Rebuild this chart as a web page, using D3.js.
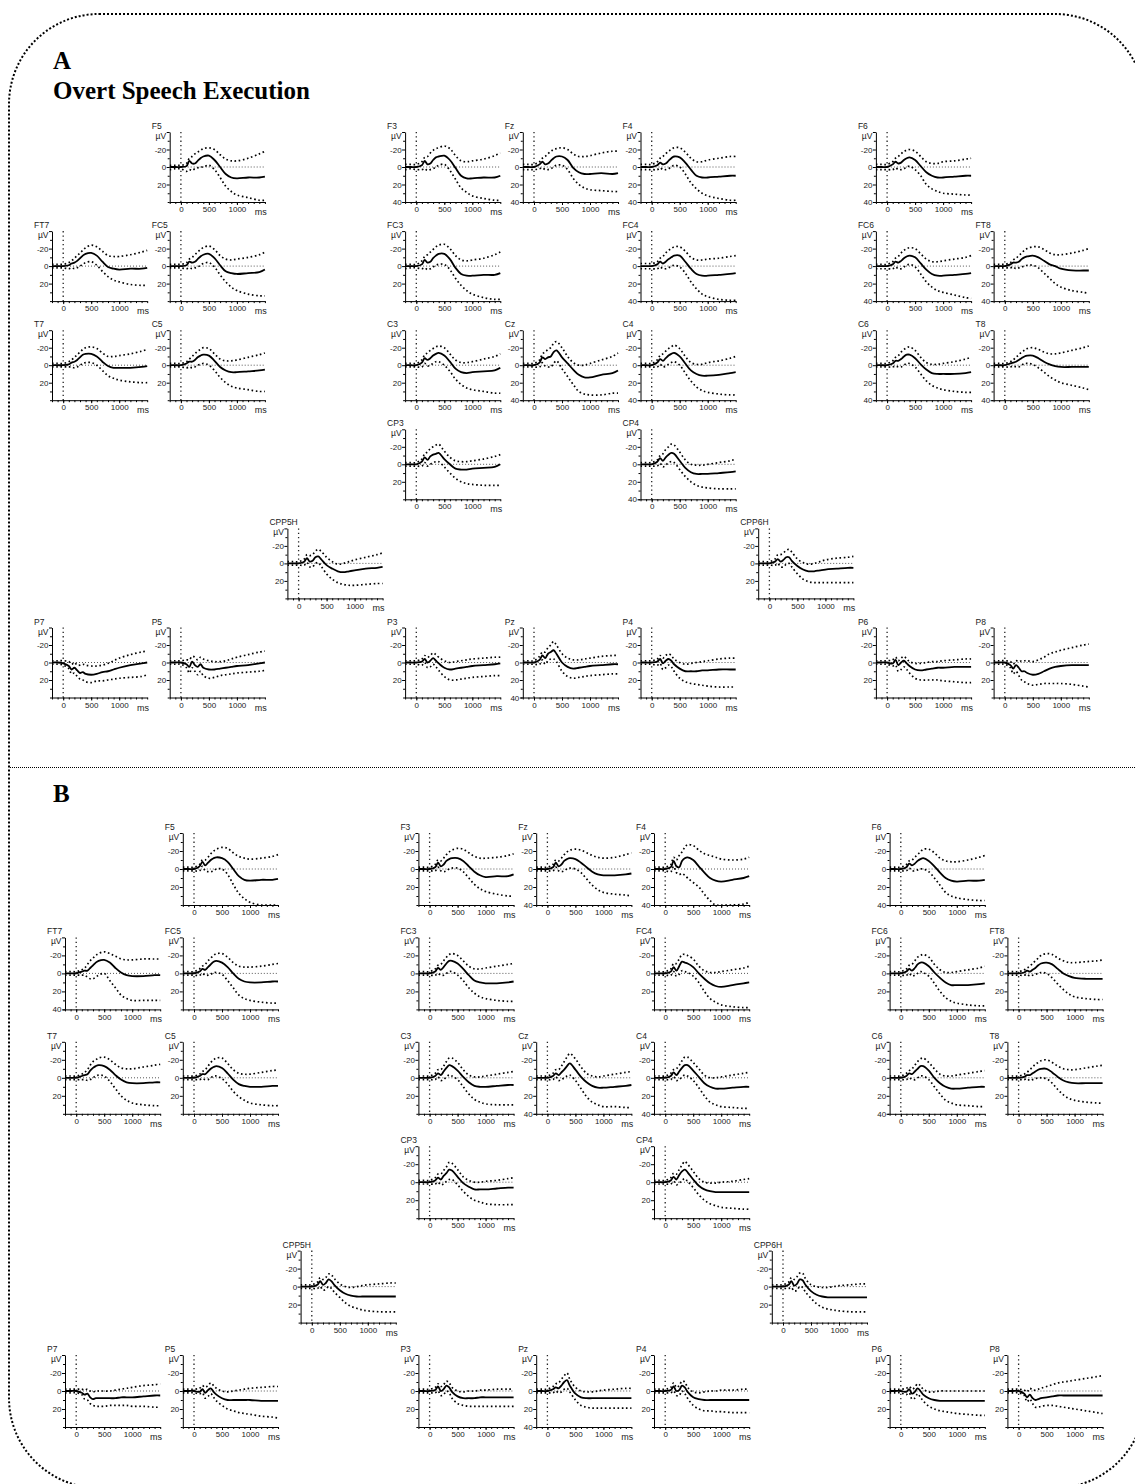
<!DOCTYPE html>
<html>
<head>
<meta charset="utf-8">
<script src="https://cdn.jsdelivr.net/npm/d3@7"></script>
<style>
  body { margin: 0; background: #fff; }
  svg { display: block; }
</style>
</head>
<body>
<svg id="chart" width="1135" height="1484"></svg>
<script>
// Sample latencies (ms) for every waveform
const times = [-200, -100, 0, 100, 150, 200, 250, 300, 350, 400, 500, 600, 700, 800, 900, 1000, 1200, 1400, 1500];

const electrodes = ["F5","F3","Fz","F4","F6","FT7","FC5","FC3","FC4","FC6","FT8","T7","C5","C3","Cz","C4","C6","T8","CP3","CP4","CPP5H","CPP6H","P7","P5","P3","Pz","P4","P6","P8"];

const xTicks = [0, 500, 1000];
const yTicks = [-20, 0, 20, 40];

// Panel A: overt speech execution — grand average (µV) and bounds
const meanA = {
  F5:   [0,0,0,-1,-7,-4,-4,-7,-10,-12,-13,-8,0,8,12,13,12,12,11],
  F3:   [0,0,0,-2,-7,-3,-4,-8,-11,-12,-13,-8,1,10,13,13,12,12,10],
  Fz:   [0,0,0,-3,-6,-3,-4,-7,-10,-12,-12,-8,1,6,8,8,7,8,7],
  F4:   [0,0,0,-2,-5,-3,-4,-7,-10,-12,-11,-5,3,10,12,12,11,10,10],
  F6:   [0,0,0,-3,-6,-4,-5,-8,-10,-11,-8,-1,6,10,12,12,11,10,10],
  FT7:  [0,0,0,-1,-3,-4,-6,-9,-12,-14,-15,-12,-5,1,3,4,3,3,2],
  FC5:  [0,0,0,-1,-5,-4,-5,-8,-11,-13,-14,-9,-1,6,8,9,8,7,4],
  FC3:  [0,0,0,-2,-7,-4,-5,-9,-12,-14,-14,-8,2,9,11,11,10,10,8],
  FC4:  [0,0,0,-2,-5,-3,-5,-8,-10,-12,-12,-5,3,9,11,11,10,9,8],
  FC6:  [0,0,0,-2,-5,-4,-6,-9,-11,-12,-10,-3,4,9,11,11,10,9,8],
  FT8:  [0,0,0,-2,-4,-4,-5,-8,-10,-11,-12,-10,-6,-2,0,3,5,5,5],
  T7:   [0,0,0,-1,-3,-4,-6,-9,-12,-13,-13,-10,-4,1,3,3,3,2,1],
  C5:   [0,0,0,-2,-4,-4,-6,-9,-11,-12,-11,-5,2,6,8,8,7,6,5],
  C3:   [0,0,0,-3,-8,-6,-8,-11,-13,-14,-11,-4,4,8,9,8,7,6,3],
  Cz:   [0,0,0,-3,-9,-7,-9,-10,-15,-17,-9,-2,5,11,14,14,11,9,6],
  C4:   [0,0,0,-3,-7,-5,-8,-11,-13,-14,-10,-2,6,10,12,12,11,9,8],
  C6:   [0,0,0,-2,-5,-5,-7,-10,-12,-12,-8,-1,5,9,10,10,10,9,8],
  T8:   [0,0,0,-2,-3,-4,-6,-8,-10,-11,-11,-8,-4,-1,1,2,2,2,2],
  CP3:  [0,0,0,-3,-8,-5,-9,-11,-12,-13,-6,0,5,6,6,5,4,3,0],
  CP4:  [0,0,0,-3,-7,-4,-8,-11,-13,-12,-4,4,9,11,11,11,10,9,8],
  CPP5H:[0,0,0,-2,-6,-2,-3,-7,-8,-5,2,6,9,10,9,8,6,5,4],
  CPP6H:[0,0,0,-2,-5,-2,-4,-7,-7,-3,3,7,9,9,8,7,6,5,5],
  P7:   [0,0,1,4,8,6,9,12,11,13,14,13,11,10,8,6,3,1,0],
  P5:   [0,0,0,2,5,-1,3,5,2,6,8,8,7,6,5,4,3,1,0],
  P3:   [0,0,0,-1,-4,0,-2,-5,-2,1,6,8,7,6,5,4,3,2,1],
  Pz:   [0,0,0,-3,-8,-5,-10,-12,-14,-10,0,5,7,6,5,4,3,2,2],
  P4:   [0,0,0,-1,-4,1,-2,-4,-2,2,7,10,10,10,9,9,8,8,8],
  P6:   [0,0,0,1,-3,3,0,-2,1,4,8,9,8,7,6,6,5,5,5],
  P8:   [0,0,0,3,7,3,6,10,10,12,14,13,10,7,5,4,3,3,3]
};
const upperA = {
  F5:   [-2,-2,-2,-4,-10,-12,-15,-17,-19,-21,-22,-20,-14,-9,-7,-7,-10,-15,-18],
  F3:   [-3,-3,-3,-6,-11,-12,-16,-19,-21,-22,-24,-21,-13,-7,-6,-7,-9,-13,-16],
  Fz:   [-3,-3,-3,-6,-10,-12,-15,-18,-20,-21,-22,-20,-15,-12,-12,-13,-16,-18,-18],
  F4:   [-3,-3,-3,-6,-10,-12,-15,-18,-20,-22,-22,-17,-10,-6,-6,-8,-10,-12,-12],
  F6:   [-3,-3,-3,-6,-10,-12,-15,-18,-19,-20,-18,-12,-6,-4,-4,-6,-7,-9,-10],
  FT7:  [-2,-2,-2,-4,-6,-9,-12,-15,-18,-21,-24,-22,-17,-12,-11,-11,-13,-16,-18],
  FC5:  [-2,-2,-2,-4,-8,-10,-13,-16,-19,-21,-23,-19,-12,-8,-7,-8,-10,-13,-16],
  FC3:  [-2,-2,-2,-6,-11,-13,-16,-19,-22,-24,-25,-20,-12,-7,-6,-7,-9,-13,-16],
  FC4:  [-3,-3,-3,-5,-9,-11,-15,-18,-20,-22,-22,-17,-10,-7,-7,-8,-9,-11,-12],
  FC6:  [-2,-2,-2,-5,-9,-11,-15,-18,-20,-21,-20,-14,-8,-5,-5,-6,-8,-10,-12],
  FT8:  [-2,-2,-2,-4,-7,-9,-12,-15,-18,-20,-22,-22,-19,-15,-13,-13,-15,-18,-20],
  T7:   [-2,-2,-2,-4,-6,-9,-12,-15,-18,-20,-21,-19,-14,-10,-10,-11,-13,-16,-18],
  C5:   [-2,-2,-2,-4,-7,-10,-13,-16,-18,-20,-19,-13,-7,-5,-5,-6,-9,-12,-14],
  C3:   [-2,-2,-2,-6,-12,-14,-17,-19,-21,-22,-20,-13,-6,-3,-3,-4,-7,-10,-13],
  Cz:   [-2,-2,-2,-6,-13,-15,-18,-20,-25,-27,-20,-10,-3,0,0,-2,-6,-10,-14],
  C4:   [-2,-2,-2,-6,-11,-13,-16,-19,-21,-23,-19,-10,-3,-1,-1,-3,-5,-8,-10],
  C6:   [-2,-2,-2,-5,-9,-11,-15,-18,-20,-21,-17,-9,-3,-1,-1,-2,-4,-7,-9],
  T8:   [-2,-2,-2,-4,-6,-9,-12,-15,-17,-19,-20,-18,-15,-13,-13,-14,-17,-20,-22],
  CP3:  [-2,-2,-2,-6,-12,-14,-18,-20,-22,-23,-15,-8,-4,-3,-3,-4,-6,-9,-11],
  CP4:  [-2,-2,-2,-5,-10,-12,-17,-20,-23,-22,-14,-5,0,1,1,0,-2,-4,-6],
  CPP5H:[-2,-2,-2,-5,-10,-9,-10,-14,-16,-14,-7,-2,1,0,-2,-4,-7,-10,-12],
  CPP6H:[-2,-2,-2,-5,-10,-10,-12,-15,-16,-13,-5,-1,1,0,-2,-4,-6,-7,-8],
  P7:   [-2,-2,-2,-1,2,0,3,3,2,3,4,4,3,1,-2,-5,-9,-12,-13],
  P5:   [-2,-2,-2,-3,-3,-7,-6,-3,-6,-4,-2,-1,-1,-2,-4,-6,-9,-12,-13],
  P3:   [-2,-2,-2,-4,-8,-6,-8,-11,-9,-6,-2,0,-1,-2,-3,-4,-5,-6,-6],
  Pz:   [-2,-2,-2,-7,-12,-12,-17,-20,-24,-20,-10,-5,-3,-3,-4,-5,-7,-8,-8],
  P4:   [-2,-2,-2,-4,-8,-5,-8,-10,-8,-4,0,2,1,0,-1,-2,-4,-5,-5],
  P6:   [-2,-2,-2,-3,-6,-2,-5,-7,-4,-1,1,1,0,-1,-1,-2,-3,-4,-4],
  P8:   [-2,-2,-2,-1,2,-2,-1,-2,-2,-2,-1,-3,-6,-10,-12,-14,-17,-20,-21]
};
const lowerA = {
  F5:   [3,2,2,5,3,4,2,1,0,0,-2,3,12,22,28,32,35,38,38],
  F3:   [3,2,3,3,2,4,3,2,0,-2,-3,4,14,24,29,33,36,38,38],
  Fz:   [3,3,3,2,1,3,3,2,0,-2,-2,3,13,20,24,26,27,28,28],
  F4:   [3,3,3,3,1,3,3,2,0,-2,0,8,18,25,30,33,36,38,38],
  F6:   [3,3,3,3,1,3,3,2,0,-1,3,10,20,25,28,30,31,32,32],
  FT7:  [2,2,2,3,2,3,2,0,-2,-4,-5,-1,6,12,16,18,21,22,22],
  FC5:  [2,2,2,3,2,3,2,1,-1,-3,-4,1,10,18,24,28,32,34,34],
  FC3:  [3,2,2,3,2,4,3,1,-1,-2,-2,4,14,22,28,32,36,38,38],
  FC4:  [3,3,3,3,1,3,3,2,0,-1,1,8,18,26,32,35,38,39,39],
  FC6:  [3,3,3,3,1,3,3,1,-1,-2,1,9,18,24,28,30,33,36,37],
  FT8:  [2,2,2,2,1,3,2,1,0,-1,-1,2,8,14,20,24,28,30,31],
  T7:   [2,2,2,2,2,3,2,0,-2,-3,-3,0,6,12,15,17,19,20,20],
  C5:   [2,2,2,3,2,3,2,0,-1,-2,0,6,14,20,24,26,28,30,30],
  C3:   [2,2,2,2,-2,1,0,-2,-4,-4,0,7,16,22,26,28,30,32,32],
  Cz:   [2,2,2,2,-3,1,2,2,-2,-5,4,13,22,30,33,34,34,32,32],
  C4:   [2,2,2,2,-1,2,1,-1,-3,-4,0,9,18,25,29,31,33,34,34],
  C6:   [2,2,2,2,1,2,2,0,-2,-2,2,10,18,23,26,28,30,31,31],
  T8:   [2,2,2,2,1,2,2,0,-2,-2,-1,3,8,13,17,20,23,26,28],
  CP3:  [2,2,2,2,-2,2,0,-2,-3,-3,3,10,16,20,22,23,24,24,24],
  CP4:  [2,2,2,2,-1,3,1,-2,-3,-2,6,14,20,24,26,27,28,28,28],
  CPP5H:[2,2,2,2,-1,4,4,0,-1,3,12,18,22,24,25,25,24,23,23],
  CPP6H:[2,2,2,2,0,4,4,1,0,4,12,18,21,22,22,22,22,22,22],
  P7:   [2,2,3,7,13,12,16,19,20,22,23,21,21,20,19,18,17,16,14],
  P5:   [2,2,2,6,12,6,10,14,10,15,18,17,15,14,13,12,11,10,9],
  P3:   [2,2,2,3,0,6,5,2,5,9,16,20,20,19,18,17,16,15,15],
  Pz:   [2,2,2,2,-3,2,-2,-4,-4,-1,10,16,18,17,16,15,14,13,13],
  P4:   [2,2,2,3,1,8,6,3,5,10,18,22,24,25,26,27,28,28,28],
  P6:   [2,2,2,4,3,10,8,5,8,12,18,20,20,20,20,21,22,23,23],
  P8:   [2,2,2,6,13,10,15,20,22,24,26,25,24,24,24,24,25,27,28]
};

// Panel B — grand average (µV) and bounds
const meanB = {
  F5:   [0,0,0,-3,-8,-4,-7,-10,-12,-13,-12,-8,0,8,12,13,12,12,11],
  F3:   [0,0,0,-2,-7,-3,-5,-9,-11,-12,-12,-9,-3,3,7,9,8,8,6],
  Fz:   [0,0,0,-2,-7,-3,-5,-9,-11,-12,-11,-7,-2,3,6,7,7,6,5],
  F4:   [0,0,0,-2,-9,-3,-2,-9,-12,-13,-10,-3,4,10,13,14,12,10,8],
  F6:   [0,0,0,-2,-6,-4,-6,-9,-11,-12,-9,-3,4,10,13,14,13,13,12],
  FT7:  [0,0,0,-2,-3,-3,-6,-9,-12,-14,-15,-12,-6,-1,2,3,3,2,2],
  FC5:  [0,0,0,-2,-5,-4,-7,-10,-13,-14,-12,-7,0,6,9,10,10,9,9],
  FC3:  [0,0,0,-2,-6,-4,-7,-11,-14,-14,-11,-5,2,8,10,11,11,10,9],
  FC4:  [0,0,0,-2,-7,-3,-8,-13,-12,-11,-7,0,6,11,14,15,13,11,10],
  FC6:  [0,0,0,-2,-5,-3,-6,-10,-12,-12,-8,-1,5,10,13,13,13,12,11],
  FT8:  [0,0,0,-1,-3,-2,-4,-6,-9,-11,-12,-10,-5,0,3,5,6,6,6],
  T7:   [0,0,0,-2,-3,-4,-8,-11,-13,-14,-13,-9,-3,2,5,6,6,5,5],
  C5:   [0,0,0,-2,-4,-4,-7,-10,-12,-13,-11,-5,2,7,9,10,10,9,9],
  C3:   [0,0,0,-2,-5,-3,-7,-11,-14,-13,-8,-1,5,9,10,10,9,8,8],
  Cz:   [0,0,0,-2,-5,-3,-6,-9,-13,-16,-9,-1,5,9,11,11,10,9,8],
  C4:   [0,0,0,-2,-6,-3,-7,-11,-14,-14,-8,-1,6,10,12,12,11,10,10],
  C6:   [0,0,0,-2,-5,-4,-7,-10,-13,-13,-8,0,6,10,12,12,11,10,10],
  T8:   [0,0,0,-1,-3,-3,-5,-7,-9,-10,-10,-6,-1,3,5,6,6,6,6],
  CP3:  [0,0,0,-2,-5,-3,-7,-10,-14,-13,-6,1,5,8,8,8,7,6,6],
  CP4:  [0,0,0,-2,-6,-3,-8,-12,-14,-11,-3,4,8,10,11,11,11,11,11],
  CPP5H:[0,0,0,-2,-6,-2,-4,-8,-6,-2,4,8,10,11,11,11,11,11,11],
  CPP6H:[0,0,0,-2,-6,-1,-3,-8,-7,-2,5,9,11,12,12,12,12,12,12],
  P7:   [0,0,0,2,4,3,7,9,8,8,8,8,8,7,7,7,6,5,5],
  P5:   [0,0,0,1,-2,2,-1,-3,1,4,8,10,10,10,10,10,11,11,11],
  P3:   [0,0,0,-1,-5,0,-2,-6,-4,1,6,8,8,8,7,7,7,7,7],
  Pz:   [0,0,0,-2,-4,-3,-6,-10,-12,-6,3,7,8,8,8,8,8,8,8],
  P4:   [0,0,0,-1,-5,0,-1,-6,-4,1,7,9,10,10,10,10,10,10,10],
  P6:   [0,0,0,1,-2,3,1,-3,0,4,8,10,11,11,11,11,11,11,11],
  P8:   [0,0,0,3,7,4,8,10,9,8,7,6,5,5,5,5,5,5,5]
};
const upperB = {
  F5:   [-2,-2,-2,-5,-10,-10,-13,-17,-20,-22,-24,-23,-18,-14,-12,-11,-12,-14,-16],
  F3:   [-2,-2,-2,-5,-10,-9,-12,-16,-19,-21,-23,-22,-18,-14,-12,-12,-13,-15,-17],
  Fz:   [-2,-2,-2,-5,-10,-9,-12,-16,-19,-21,-22,-21,-18,-15,-13,-12,-13,-16,-18],
  F4:   [-2,-2,-2,-5,-13,-10,-15,-19,-24,-27,-26,-21,-17,-15,-13,-11,-10,-11,-13],
  F6:   [-2,-2,-2,-5,-9,-10,-13,-16,-19,-22,-22,-18,-12,-9,-8,-8,-10,-13,-15],
  FT7:  [-2,-2,-2,-4,-6,-10,-14,-17,-20,-22,-24,-22,-19,-16,-15,-15,-16,-16,-16],
  FC5:  [-2,-2,-2,-5,-8,-10,-14,-17,-20,-22,-22,-18,-12,-8,-7,-7,-8,-10,-11],
  FC3:  [-2,-2,-2,-5,-9,-10,-14,-18,-21,-22,-20,-14,-8,-5,-5,-6,-8,-10,-11],
  FC4:  [-2,-2,-2,-5,-11,-11,-16,-21,-21,-20,-16,-8,-3,-1,-1,-2,-4,-6,-8],
  FC6:  [-2,-2,-2,-5,-9,-10,-14,-18,-20,-21,-18,-10,-4,-1,-1,-2,-4,-6,-8],
  FT8:  [-2,-2,-2,-4,-6,-8,-11,-14,-17,-20,-22,-21,-17,-14,-12,-12,-13,-14,-15],
  T7:   [-2,-2,-2,-4,-6,-9,-14,-18,-20,-22,-23,-20,-15,-11,-10,-10,-12,-14,-15],
  C5:   [-2,-2,-2,-4,-7,-9,-13,-17,-20,-22,-22,-16,-9,-5,-4,-4,-6,-8,-9],
  C3:   [-2,-2,-2,-5,-9,-9,-13,-18,-22,-22,-17,-9,-3,-1,-1,-2,-4,-6,-7],
  Cz:   [-2,-2,-2,-5,-9,-9,-13,-18,-23,-27,-21,-12,-5,-2,-1,-2,-4,-6,-7],
  C4:   [-2,-2,-2,-5,-9,-10,-14,-19,-23,-23,-17,-10,-3,0,0,-1,-3,-5,-6],
  C6:   [-2,-2,-2,-5,-8,-10,-14,-18,-21,-22,-17,-10,-4,-2,-2,-3,-5,-7,-8],
  T8:   [-2,-2,-2,-4,-6,-9,-12,-15,-17,-19,-20,-17,-13,-10,-9,-9,-11,-13,-14],
  CP3:  [-2,-2,-2,-5,-9,-9,-13,-17,-22,-21,-14,-6,-2,0,0,-1,-2,-4,-5],
  CP4:  [-2,-2,-2,-5,-10,-9,-14,-19,-23,-20,-12,-4,0,1,1,0,-1,-3,-4],
  CPP5H:[-2,-2,-2,-5,-10,-8,-10,-14,-13,-9,-3,0,1,0,-1,-2,-3,-4,-4],
  CPP6H:[-2,-2,-2,-5,-10,-8,-11,-15,-15,-9,-2,0,1,1,0,-1,-2,-3,-3],
  P7:   [-2,-2,-2,-2,-1,-2,0,1,0,0,0,0,-1,-2,-3,-4,-6,-7,-8],
  P5:   [-2,-2,-2,-3,-6,-4,-6,-9,-6,-3,0,1,0,-1,-2,-3,-4,-5,-5],
  P3:   [-2,-2,-2,-4,-8,-5,-7,-11,-9,-4,0,1,0,0,-1,-1,-2,-2,-2],
  Pz:   [-2,-2,-2,-5,-8,-9,-13,-17,-20,-13,-4,0,1,1,0,-1,-2,-3,-3],
  P4:   [-2,-2,-2,-4,-9,-4,-6,-11,-10,-4,1,2,1,0,0,-1,-1,-2,-2],
  P6:   [-2,-2,-2,-3,-5,-2,-4,-8,-6,-2,1,1,0,0,0,0,0,0,0],
  P8:   [-2,-2,-2,-1,1,-3,-1,-1,-2,-3,-5,-7,-9,-10,-11,-12,-14,-16,-17]
};
const lowerB = {
  F5:   [2,2,2,2,-3,2,3,3,2,0,0,6,17,27,33,37,40,40,40],
  F3:   [2,2,2,2,-2,2,3,2,0,-1,-1,3,10,17,22,25,28,30,30],
  Fz:   [2,2,2,2,-2,2,3,2,0,-1,0,4,11,18,23,26,28,29,30],
  F4:   [2,2,2,3,-3,4,6,5,7,10,15,20,28,35,40,40,40,39,37],
  F6:   [2,2,2,2,-1,2,2,1,0,0,3,10,18,26,30,32,34,35,35],
  FT7:  [2,2,2,2,2,4,6,6,4,2,0,8,16,24,28,30,30,30,30],
  FC5:  [2,2,2,2,0,2,2,1,-1,-1,1,8,16,24,28,30,32,33,33],
  FC3:  [2,2,2,2,0,2,2,0,-2,-2,2,8,16,22,26,28,30,31,31],
  FC4:  [2,2,2,2,-2,3,1,-3,-2,-1,3,10,20,28,32,35,37,38,38],
  FC6:  [2,2,2,2,0,3,2,0,-2,-1,3,11,20,27,31,33,35,36,36],
  FT8:  [2,2,2,2,1,3,2,1,0,-1,0,5,12,18,23,26,28,29,29],
  T7:   [2,2,2,2,2,3,2,0,-2,-3,-2,4,12,20,25,28,30,31,31],
  C5:   [2,2,2,2,1,2,2,0,-2,-2,1,7,15,21,25,28,30,31,31],
  C3:   [2,2,2,2,-1,3,2,-1,-3,-2,2,10,18,24,27,29,30,30,30],
  Cz:   [2,2,2,2,-1,3,2,0,-2,-3,3,12,21,27,30,32,32,33,33],
  C4:   [2,2,2,2,-1,3,2,-1,-3,-2,3,11,20,27,30,32,33,34,34],
  C6:   [2,2,2,2,0,2,2,0,-2,-2,2,10,18,25,28,30,31,32,32],
  T8:   [2,2,2,2,1,3,2,1,0,0,1,6,13,19,23,25,27,28,28],
  CP3:  [2,2,2,2,0,3,2,-1,-3,-3,3,10,16,20,22,24,25,25,25],
  CP4:  [2,2,2,2,-1,3,1,-2,-4,-1,6,14,20,24,26,28,29,30,30],
  CPP5H:[2,2,2,2,0,4,3,0,2,6,12,18,22,24,26,27,28,28,28],
  CPP6H:[2,2,2,2,1,5,4,0,1,6,13,19,23,25,26,27,28,28,28],
  P7:   [2,2,2,4,9,10,14,16,17,17,17,16,16,16,16,17,17,18,18],
  P5:   [2,2,2,3,2,8,6,3,7,11,16,20,22,24,25,26,28,29,30],
  P3:   [2,2,2,2,0,5,4,0,2,8,14,16,17,17,17,17,17,17,17],
  Pz:   [2,2,2,2,0,2,1,-2,-3,1,10,16,18,19,19,19,19,19,19],
  P4:   [2,2,2,2,0,5,5,0,3,8,16,20,22,22,23,23,24,24,24],
  P6:   [2,2,2,4,2,9,8,3,7,11,17,20,22,23,24,25,26,27,27],
  P8:   [2,2,2,5,12,9,14,18,18,17,16,16,17,18,19,20,22,24,25]
};

// Which montage cells print the "40" tick label
const label40A = ["F3","Fz","F4","F6","FC4","FC6","FT8","Cz","C4","C6","T8","CP4","Pz"];
const label40B = ["Fz","F4","F6","FT7","Cz","C4","C6","Pz"];

// Montage placement: [row, column] on the scalp grid
const montage = {
  F5:[0,1], F3:[0,3], Fz:[0,4], F4:[0,5], F6:[0,7],
  FT7:[1,0], FC5:[1,1], FC3:[1,3], FC4:[1,5], FC6:[1,7], FT8:[1,8],
  T7:[2,0], C5:[2,1], C3:[2,3], Cz:[2,4], C4:[2,5], C6:[2,7], T8:[2,8],
  CP3:[3,3], CP4:[3,5],
  CPP5H:[4,2], CPP6H:[4,6],
  P7:[5,0], P5:[5,1], P3:[5,3], Pz:[5,4], P4:[5,5], P6:[5,7], P8:[5,8]
};

const svg = d3.select("#chart");
const SANS = "'Liberation Sans', Arial, sans-serif";
const SERIF = "'Liberation Serif', 'DejaVu Serif', serif";

// Outer dotted frame and the panel divider
svg.append("rect")
  .attr("x", 9).attr("y", 14).attr("width", 1136).attr("height", 1474)
  .attr("rx", 90).attr("ry", 90)
  .attr("fill", "none").attr("stroke", "#000")
  .attr("stroke-width", 2).attr("stroke-dasharray", "2 2");
svg.append("line")
  .attr("x1", 10).attr("x2", 1135).attr("y1", 767.5).attr("y2", 767.5)
  .attr("stroke", "#000").attr("stroke-width", 1).attr("stroke-dasharray", "1 1");

// Panel headings
svg.append("text").attr("x", 53).attr("y", 69).text("A")
  .attr("font-family", SERIF).attr("font-weight", "bold").attr("font-size", 25).attr("fill", "#000");
svg.append("text").attr("x", 53).attr("y", 99).text("Overt Speech Execution")
  .attr("font-family", SERIF).attr("font-weight", "bold").attr("font-size", 25).attr("fill", "#000");
svg.append("text").attr("x", 53).attr("y", 802).text("B")
  .attr("font-family", SERIF).attr("font-weight", "bold").attr("font-size", 25).attr("fill", "#000");

const panels = [
  { mean: meanA, upper: upperA, lower: lowerA, label40: label40A,
    x0: 52, colStep: 117.7, y0: 167, rowStep: 99.1, half: 35 },
  { mean: meanB, upper: upperB, lower: lowerB, label40: label40B,
    x0: 65, colStep: 117.8, y0: 869, rowStep: 104.4, half: 36 }
];

const plotW = 95.2; // 1700 ms at 28 px / 500 ms
let clipId = 0;

panels.forEach(p => {
  electrodes.forEach(name => {
    const [r, c] = montage[name];
    const ox = p.x0 + c * p.colStep;
    const oy = p.y0 + r * p.rowStep;
    const x = d3.scaleLinear().domain([-200, 1500]).range([0, plotW]);
    const y = d3.scaleLinear().domain([-40, 40]).range([-p.half, p.half]);

    const g = svg.append("g").attr("transform", `translate(${ox},${oy})`);

    const cid = "clip" + (clipId++);
    g.append("clipPath").attr("id", cid).append("rect")
      .attr("x", 0).attr("y", y(-40)).attr("width", plotW + 1).attr("height", y(40) - y(-40));

    // reference lines: baseline and stimulus onset
    g.append("line").attr("x1", x(-200)).attr("x2", x(1500)).attr("y1", y(0)).attr("y2", y(0))
      .attr("stroke", "#444").attr("stroke-width", 0.9).attr("stroke-dasharray", "1 2");
    g.append("line").attr("x1", x(0)).attr("x2", x(0)).attr("y1", y(-40)).attr("y2", y(40))
      .attr("stroke", "#222").attr("stroke-width", 1.3).attr("stroke-dasharray", "1.3 3");

    // axes (plain hyphen for negative values)
    const fmt = d => String(d);
    const yMajor = yTicks.filter(v => v !== 40 || p.label40.includes(name));
    const yAx = g.append("g").call(d3.axisLeft(y).tickValues([-40, ...yMajor]).tickSize(3).tickSizeOuter(0)
      .tickFormat(d => d === -40 ? "" : fmt(d)));
    g.append("g").call(d3.axisLeft(y).tickValues([-30, -10, 10, 30, 40]).tickSize(2).tickSizeOuter(0).tickFormat(""))
      .select(".domain").remove();
    const xAx = g.append("g").attr("transform", `translate(0,${y(40)})`)
      .call(d3.axisBottom(x).tickValues(xTicks).tickSize(3).tickSizeOuter(0).tickFormat(fmt));
    g.append("g").attr("transform", `translate(0,${y(40)})`)
      .call(d3.axisBottom(x).tickValues(d3.range(-200, 1501, 100)).tickSize(2).tickSizeOuter(0).tickFormat(""))
      .select(".domain").remove();

    g.selectAll(".tick line, .domain").attr("stroke", "#000").attr("stroke-width", 1);
    [yAx, xAx].forEach(a => a.selectAll("text")
      .attr("font-family", SANS).attr("font-size", 8).attr("fill", "#1a1a1a"));
    yAx.selectAll("text").attr("x", -3.5);
    xAx.selectAll("text").attr("y", 4.5);

    // labels
    g.append("text").attr("x", -18).attr("y", y(-40) - 3).text(name)
      .attr("font-family", SANS).attr("font-size", 8.5).attr("fill", "#1a1a1a");
    g.append("text").attr("x", -3.5).attr("y", y(-40) + 7).attr("text-anchor", "end").text("µV")
      .attr("font-family", SANS).attr("font-size", 8.5).attr("fill", "#1a1a1a");
    g.append("text").attr("x", x(1320)).attr("y", y(40) + 13).text("ms")
      .attr("font-family", SANS).attr("font-size", 9).attr("fill", "#1a1a1a");

    // waveforms
    const line = d3.line().x((d, i) => x(times[i])).y(d => y(d)).curve(d3.curveCatmullRom.alpha(0.5));
    const wave = g.append("g").attr("clip-path", `url(#${cid})`);
    wave.append("path").attr("d", line(p.upper[name])).attr("fill", "none")
      .attr("stroke", "#000").attr("stroke-width", 1.7).attr("stroke-dasharray", "1.6 2.6");
    wave.append("path").attr("d", line(p.lower[name])).attr("fill", "none")
      .attr("stroke", "#000").attr("stroke-width", 1.7).attr("stroke-dasharray", "1.6 2.6");
    wave.append("path").attr("d", line(p.mean[name])).attr("fill", "none")
      .attr("stroke", "#000").attr("stroke-width", 1.8);
  });
});
</script>
</body>
</html>
